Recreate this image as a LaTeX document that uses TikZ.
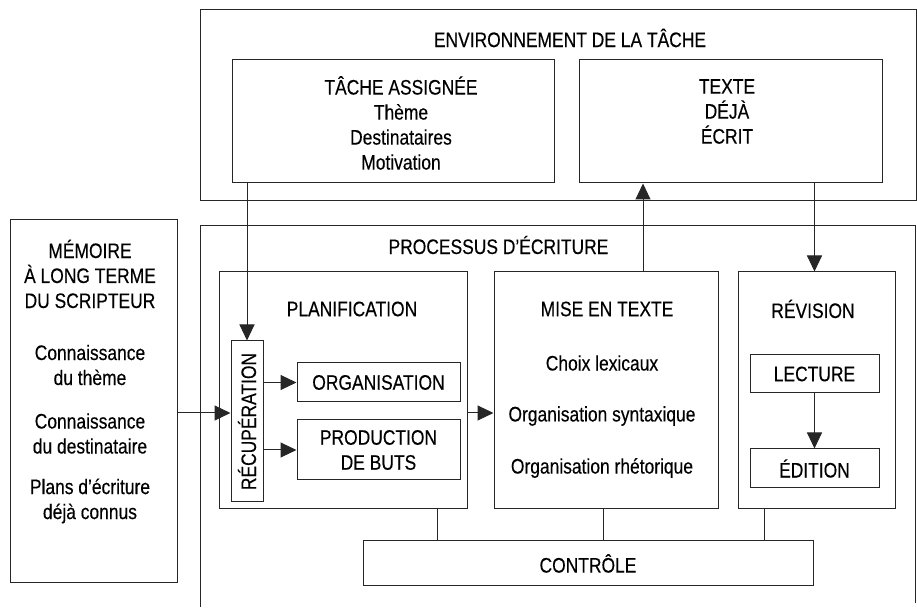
\documentclass[tikz,border=0pt]{standalone}
\usepackage{fontspec}
\setmainfont{Liberation Sans}[FakeStretch=0.83,FakeBold=0.3]
\usetikzlibrary{arrows.meta,positioning}
\tikzset{%
boxnode/.style={rectangle, draw=black!85, line width=0.5pt, inner sep=0pt},
pt/.style={draw=black!85, line width=0.5pt, -{Triangle[length=8pt,width=7.5pt]}},
ln/.style={draw=black!85, line width=0.5pt}
}

\begin{document}
\begin{tikzpicture}[x=0.5pt,y=-0.5pt,
		txt/.style={align=center, inner sep=0pt, text=black},
		font=\fontsize{10.5}{12.5}\selectfont]
		\useasboundingbox (0,0) rectangle (917,609);
		% environnement de la tache
		\node[boxnode, minimum width=358pt, minimum height=95.5pt] (env) at (558,105.5) {};
		\node[txt] (envtitle) at (570,38) {ENVIRONNEMENT DE LA TÂCHE};
		\node[boxnode, minimum width=161pt, minimum height=61.5pt] (tache) at (393,121.5) {};
		\node[txt] (tachetxt) at (401,123) {TÂCHE ASSIGNÉE\\Thème\\Destinataires\\Motivation};
		\node[boxnode, minimum width=151.5pt, minimum height=61.5pt] (texte) at (730.5,121.5) {};
		\node[txt] (textetxt) at (727,111.5) {TEXTE\\DÉJÀ\\ÉCRIT};
		
		% memoire
		\node[boxnode, minimum width=83.5pt, minimum height=181.5pt] (memoire) at (93.5,401.5) {};
		\node[txt] (memtitle) at (90,274) {MÉMOIRE\\À LONG TERME\\DU SCRIPTEUR};
		\node[txt] (memone) at (90,365) {Connaissance\\du thème};
		\node[txt] (memtwo) at (90,433.5) {Connaissance\\du destinataire};
		\node[txt] (memthree) at (90,501) {Plans d'écriture\\déjà connus};
		
		% processus d'ecriture
		\draw[ln] (200,607) -- (200,226) -- (915,226) -- (915,603);
		\node[txt] (proctitle) at (498.5,245) {PROCESSUS D'ÉCRITURE};
		
		\node[boxnode, minimum width=124pt, minimum height=118.5pt] (planif) at (343,390.5) {};
		\node[txt] (planiftitle) at (352,309) {PLANIFICATION};
		\node[boxnode, minimum width=16pt, minimum height=80.5pt] (recup) at (247,421.5) {};
		\node[txt, rotate=90] (recuptxt) at (recup) {RÉCUPÉRATION};
		\node[boxnode, txt, minimum width=81.5pt, minimum height=19.5pt] (organisation) at (378.5,382.5) {ORGANISATION};
		\node[boxnode, txt, minimum width=81.5pt, minimum height=30pt] (production) at (378.5,450) {PRODUCTION\\DE BUTS};
		
		\node[boxnode, minimum width=112pt, minimum height=118.5pt] (mise) at (606,390.5) {};
		\node[txt] (misetitle) at (607,309) {MISE EN TEXTE};
		\node[txt] (choix) at (602,363) {Choix lexicaux};
		\node[txt] (syntaxe) at (602,416) {Organisation syntaxique};
		\node[txt] (rhetorique) at (602,468) {Organisation rhétorique};
		
		\node[boxnode, minimum width=78.5pt, minimum height=118.5pt] (revision) at (816.5,390.5) {};
		\node[txt] (revtitle) at (813,309) {RÉVISION};
		\node[boxnode, txt, minimum width=64.5pt, minimum height=19pt] (lecture) at (814.5,374) {LECTURE};
		\node[boxnode, txt, minimum width=64.5pt, minimum height=19.5pt] (edition) at (814.5,468.5) {ÉDITION};
		
		\node[boxnode, txt, minimum width=225pt, minimum height=22.5pt] (controle) at (588,563.5) {CONTRÔLE};
		
		% fleches
		\coordinate (mid) at (0,413);
		\coordinate (up) at (643,0);
		\draw[pt] (memoire.east |- mid) -- (recup.west |- mid);
		\draw[pt] (recup.north |- tache.south) -- (recup.north);
		\draw[pt] (recup.east |- organisation) -- (organisation.west);
		\draw[pt] (recup.east |- production) -- (production.west);
		\draw[pt] (planif.east |- mid) -- (mise.west |- mid);
		\draw[pt] (mise.north -| up) -- (texte.south -| up);
		\draw[pt] (texte.south -| lecture) -- (revision.north -| lecture);
		\draw[pt] (lecture) -- (edition);
		
		% liens vers le controle
		\coordinate (cp) at (437,0);
		\coordinate (cm) at (603,0);
		\coordinate (cr) at (764,0);
		\draw[ln] (planif.south -| cp) -- (controle.north -| cp);
		\draw[ln] (mise.south -| cm) -- (controle.north -| cm);
		\draw[ln] (revision.south -| cr) -- (controle.north -| cr);
	\end{tikzpicture}
\end{document}
